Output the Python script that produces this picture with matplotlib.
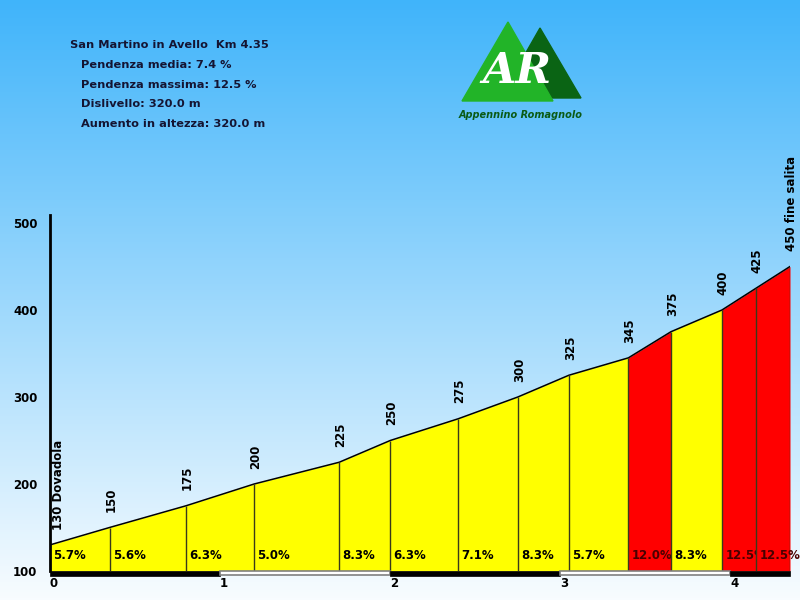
import numpy as np
import matplotlib.pyplot as plt
from matplotlib.patches import Polygon, Rectangle

# profile data (km from start, altitude in m)
km = [0, 0.35, 0.8, 1.2, 1.7, 2.0, 2.4, 2.75, 3.05, 3.4, 3.65, 3.95, 4.15, 4.35]
alt = [130, 150, 175, 200, 225, 250, 275, 300, 325, 345, 375, 400, 425, 450]
alt_labels = ['130 Dovadola', '150', '175', '200', '225', '250', '275',
              '300', '325', '345', '375', '400', '425', '450 fine salita']
slopes = [5.7, 5.6, 6.3, 5.0, 8.3, 6.3, 7.1, 8.3, 5.7, 12.0, 8.3, 12.5, 12.5]

y_ticks = [100, 200, 300, 400, 500]
km_ticks = [0, 1, 2, 3, 4]

info_title = 'San Martino in Avello  Km 4.35'
info_lines = ['Pendenza media: 7.4 %',
              'Pendenza massima: 12.5 %',
              'Dislivello: 320.0 m',
              'Aumento in altezza: 320.0 m']

fig = plt.figure(figsize=(8, 6), dpi=100)

# background gradient + decorations, in pixel coords
bg = fig.add_axes([0, 0, 1, 1])
top = np.array([64, 180, 250]) / 255
bot = np.array([248, 252, 255]) / 255
t = np.linspace(0, 1, 300)[:, None]
grad = (top * (1 - t) + bot * t)[:, None, :]
bg.imshow(grad, extent=[0, 800, 600, 0], aspect='auto')
bg.set_xlim(0, 800)
bg.set_ylim(600, 0)
bg.axis('off')

# header text
bg.text(70, 45, info_title, fontsize=8.2, fontweight='bold', color='#141432', va='center')
for i, line in enumerate(info_lines):
    bg.text(81, [65, 85, 104, 124][i], line, fontsize=8.2, fontweight='bold',
            color='#141432', va='center')

# logo
bg.add_patch(Polygon([[500, 98], [540, 28], [581, 98]], closed=True, color='#0a6414'))
bg.add_patch(Polygon([[462, 101], [508, 22], [553, 101]], closed=True, color='#22b428'))
bg.text(517, 71, 'AR', fontsize=31, fontweight='bold', fontstyle='italic',
        color='white', ha='center', va='center', family='DejaVu Serif')
bg.text(521, 115, 'Appennino Romagnolo', fontsize=7, fontweight='bold',
        fontstyle='italic', color='#0a5a14', ha='center', va='center')

# main profile axes
ax = fig.add_axes([50 / 800, 29 / 600, 740 / 800, 348 / 600])
ax.patch.set_alpha(0)
ax.set_xlim(0, 4.35)
ax.set_ylim(100, 500)
for s in ax.spines.values():
    s.set_visible(False)

for i in range(len(slopes)):
    col = '#ff0000' if slopes[i] >= 10 else '#ffff00'
    ax.fill_between([km[i], km[i + 1]], [alt[i], alt[i + 1]], 100,
                    color=col, linewidth=0, zorder=2 + 2 * i)
    tcol = '#4a0000' if slopes[i] >= 10 else 'black'
    ax.text(km[i] + 0.02, 118, f'{slopes[i]:.1f}%', fontsize=8.5, fontweight='bold',
            color=tcol, va='center', ha='left', zorder=3 + 2 * i)

z_top = 4 + 2 * len(slopes)
ax.plot(km, alt, color='black', lw=1.1, zorder=z_top)
ax.vlines(km[1:], 100, alt[1:], color='#3a3a1a', lw=1, zorder=z_top)

# elevation labels
for i, lab in enumerate(alt_labels):
    dx = 6 if i == 0 else 1
    ax.annotate(lab, (km[i], alt[i]), xytext=(dx, 11), textcoords='offset points',
                rotation=90, ha='center', va='bottom', fontsize=8.5,
                fontweight='bold', color='black', zorder=z_top + 1)

# left axis line
ax.plot([0, 0], [100, 509], color='black', lw=2, clip_on=False, zorder=z_top + 1)

# km bar
for i, k in enumerate(km_ticks):
    w = min(k + 1, km[-1]) - k
    if i % 2 == 0:
        ax.add_patch(Rectangle((k, 94.5), w, 5.5, facecolor='black', edgecolor='black',
                               lw=0.5, clip_on=False, zorder=z_top))
    else:
        ax.add_patch(Rectangle((k, 95), w, 4.5, facecolor='white', edgecolor='#808080',
                               lw=1.2, clip_on=False, zorder=z_top))

ax.set_xticks(km_ticks)
ax.set_xticklabels([str(k) for k in km_ticks], fontsize=8.5, fontweight='bold')
for lbl in ax.get_xticklabels():
    lbl.set_ha('left')
ax.tick_params(axis='x', length=0, pad=4)

ax.set_yticks(y_ticks)
ax.set_yticklabels([str(v) for v in y_ticks], fontsize=8.5, fontweight='bold')
ax.tick_params(axis='y', length=0, pad=9)

plt.savefig('out.png', dpi=100)
